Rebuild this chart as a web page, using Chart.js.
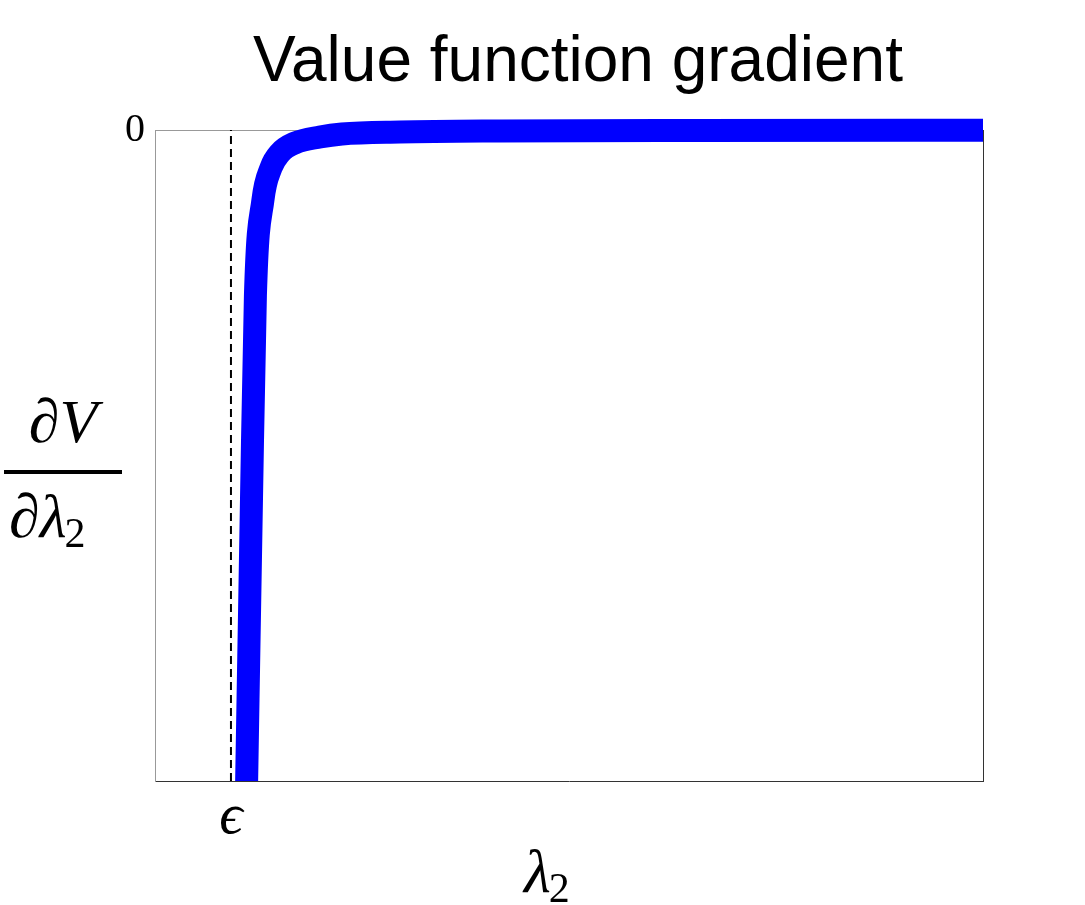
<!DOCTYPE html>
<html>
<head>
<meta charset="utf-8">
<title>Value function gradient</title>
<script src="https://cdn.jsdelivr.net/npm/chart.js@4.4.0/dist/chart.umd.min.js"></script>
<style>
  html, body { margin: 0; padding: 0; background: #fff; }
  #wrap { width: 1085px; height: 905px; }
</style>
</head>
<body>
<div id="wrap"><canvas id="gradChart" width="1085" height="905"></canvas></div>
<script>
// curve (lambda_2 in units where epsilon = 1)
const lambdaValues = [1.202, 1.27, 1.322, 1.421, 1.526, 1.645, 1.842, 2.171, 2.461, 3.224, 4.54, 7.17, 10.9];
const gradientValues = [-10.3, -5.68, -2.535, -1.075, -0.584, -0.353, -0.2, -0.108, -0.061, -0.031, -0.015, -0.006, -0.002];

const epsilon = 1;
const xRange = [0, 10.9];
const yRange = [-10, 0];
const xTickValues = [epsilon];
const xTickLabels = ["ϵ"];
const yTickValues = [0];
const yTickLabels = ["0"];

// symbol followed by an upright subscript "2"
function drawSub(ctx, text, x, y, subDrop) {
  ctx.font = "italic 62px 'Liberation Serif'";
  ctx.fillText(text, x, y);
  const w = ctx.measureText(text).width;
  ctx.font = "42px 'Liberation Serif'";
  ctx.fillText("2", x + w - 2, y + subDrop);
}

// draws the math labels (fraction on the left, lambda_2 below)
const mathLabels = {
  id: "mathLabels",
  afterDraw(chart) {
    const ctx = chart.ctx;
    ctx.save();
    ctx.fillStyle = "#000";
    ctx.textBaseline = "alphabetic";

    ctx.font = "italic 62px 'Liberation Serif'";
    ctx.textAlign = "center";
    ctx.fillText("∂V", 63, 442);
    ctx.fillRect(4, 470, 118, 4);
    ctx.textAlign = "left";
    drawSub(ctx, "∂λ", 9, 537, 10);

    drawSub(ctx, "λ", 524, 892, 10);
    ctx.restore();
  },
};

function pickTicks(values) {
  return (scale) => {
    scale.ticks = values.map((v) => ({ value: v }));
  };
}

function pickLabel(values, labels) {
  return (v) => {
    const i = values.indexOf(v);
    return i >= 0 ? labels[i] : "";
  };
}

const ctx = document.getElementById("gradChart").getContext("2d");

new Chart(ctx, {
  type: "line",
  data: {
    datasets: [
      {
        label: "∂V/∂λ2",
        data: lambdaValues.map((x, i) => ({ x: x, y: gradientValues[i] })),
        borderColor: "#0000ff",
        borderWidth: 23,
        pointRadius: 0,
        fill: false,
        cubicInterpolationMode: "monotone",
        clip: { left: 0, top: 20, right: 0, bottom: 0 },
        order: 0,
      },
      {
        label: "epsilon",
        data: [
          { x: epsilon, y: yRange[0] },
          { x: epsilon, y: yRange[1] },
        ],
        borderColor: "#000",
        borderWidth: 2,
        borderDash: [8, 5],
        pointRadius: 0,
        fill: false,
        order: 1,
      },
    ],
  },
  options: {
    responsive: false,
    animation: false,
    layout: { padding: { left: 71, right: 0, top: 0, bottom: 0 } },
    plugins: {
      legend: { display: false },
      tooltip: { enabled: false },
      title: {
        display: true,
        text: "Value function gradient",
        color: "#000",
        font: { family: "Liberation Sans", size: 64, weight: "normal" },
        padding: { top: 24.6, bottom: 28.6 },
      },
    },
    scales: {
      x: {
        type: "linear",
        position: "bottom",
        min: xRange[0],
        max: xRange[1],
        grid: { display: false, drawTicks: false },
        border: { color: "#333", width: 1 },
        afterBuildTicks: pickTicks(xTickValues),
        ticks: {
          callback: pickLabel(xTickValues, xTickLabels),
          color: "#000",
          font: { family: "Liberation Serif", size: 58, style: "italic" },
          padding: 2,
          maxRotation: 0,
          autoSkip: false,
        },
        afterFit: (s) => {
          s.height = 124;
        },
      },
      x2: {
        type: "linear",
        position: "top",
        min: xRange[0],
        max: xRange[1],
        grid: { display: false, drawTicks: false },
        border: { color: "#999", width: 1 },
        ticks: { display: false },
        afterFit: (s) => {
          s.height = 0;
        },
      },
      y: {
        type: "linear",
        position: "left",
        min: yRange[0],
        max: yRange[1],
        grid: { display: false, drawTicks: false },
        border: { color: "#999", width: 1 },
        afterBuildTicks: pickTicks(yTickValues),
        ticks: {
          callback: pickLabel(yTickValues, yTickLabels),
          color: "#000",
          font: { family: "Liberation Serif", size: 40 },
          padding: 10,
          autoSkip: false,
        },
        afterFit: (s) => {
          s.width = 84;
        },
      },
      y2: {
        type: "linear",
        position: "right",
        min: yRange[0],
        max: yRange[1],
        grid: { display: false, drawTicks: false },
        border: { color: "#333", width: 1 },
        ticks: { display: false },
        afterFit: (s) => {
          s.width = 102;
        },
      },
    },
  },
  plugins: [mathLabels],
});
</script>
</body>
</html>
